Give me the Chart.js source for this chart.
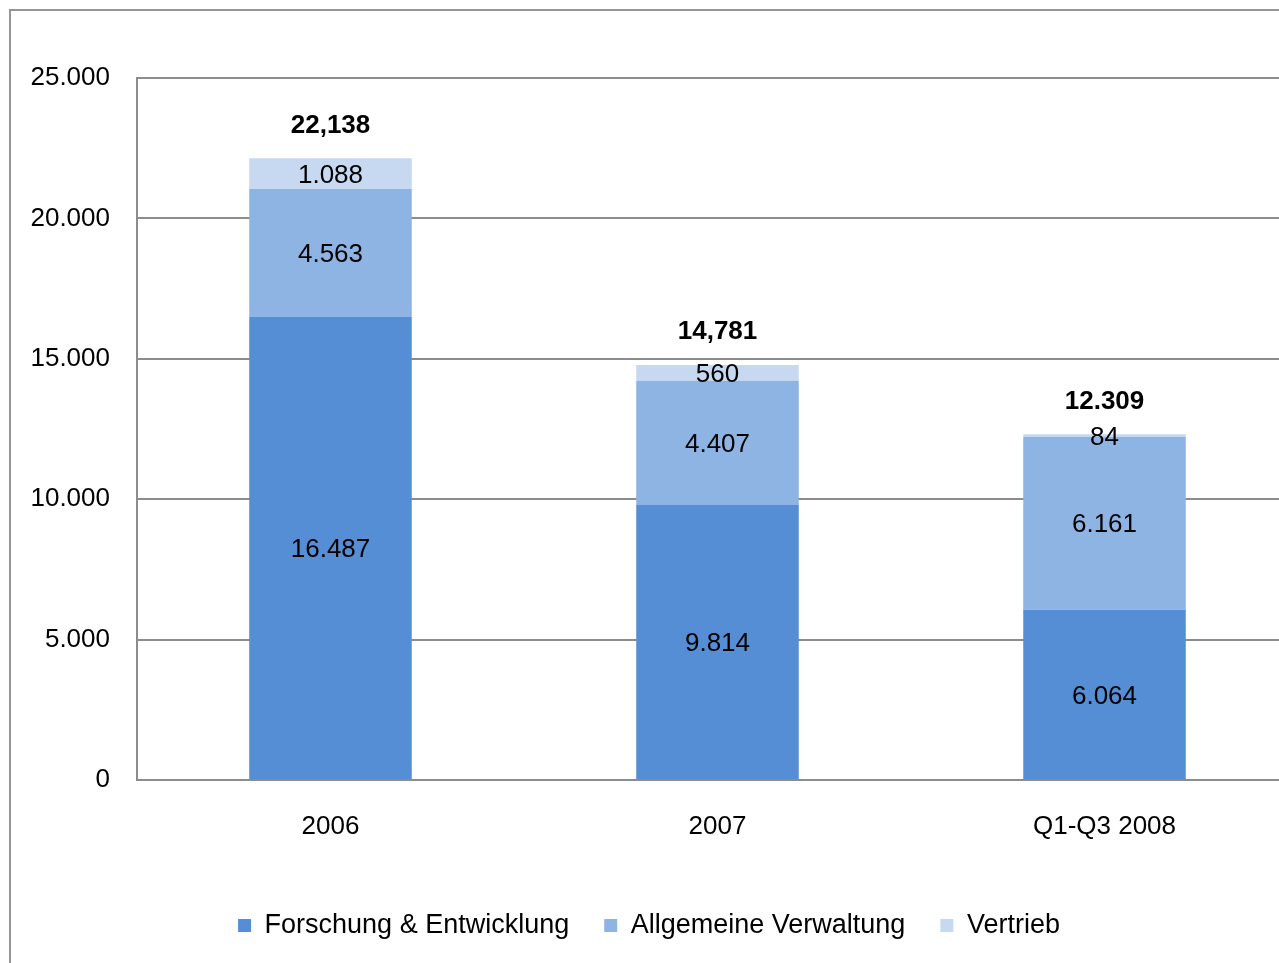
<!DOCTYPE html>
<html>
<head>
<meta charset="utf-8">
<script src="https://cdn.jsdelivr.net/npm/chart.js@4.4.1/dist/chart.umd.min.js"></script>
<style>
  html, body { margin: 0; padding: 0; background: #fff; overflow: hidden; width: 1279px; height: 963px; }
  #rahmen { position: absolute; left: 9px; top: 9px; width: 2000px; height: 2000px; border: 2px solid #959595; }
  #box { position: absolute; left: 0; top: 0; width: 1300px; height: 963px; }
</style>
</head>
<body>
<div id="rahmen"></div>
<div id="box"><canvas id="kosten"></canvas></div>
<script>
// --- Daten ---
const kategorien = ["2006", "2007", "Q1-Q3 2008"];
const forschung = [16487, 9814, 6064];
const verwaltung = [4563, 4407, 6161];
const vertrieb = [1088, 560, 84];
const summen = ["22,138", "14,781", "12.309"];
const reihenNamen = ["Forschung & Entwicklung", "Allgemeine Verwaltung", "Vertrieb"];
const farben = ["#558ED5", "#8EB4E3", "#C6D9F1"];

const schrift = '"Liberation Sans", Arial, sans-serif';
const grau = "#8c8c8c";

// Tausenderpunkt
function fmt(n) {
    return String(n).replace(/\B(?=(\d{3})+(?!\d))/g, ".");
}

// Werte in die Balken + Summen oben drauf
const wertLabels = {
    id: "wertLabels",
    afterDatasetsDraw(chart) {
        const ctx = chart.ctx;
        ctx.save();
        ctx.fillStyle = "#000";
        ctx.textAlign = "center";
        ctx.textBaseline = "middle";
        ctx.font = "26px " + schrift;
        chart.data.datasets.forEach((ds, i) => {
            chart.getDatasetMeta(i).data.forEach((bar, j) => {
                ctx.fillText(fmt(ds.data[j]), bar.x, (bar.y + bar.base) / 2 + 2);
            });
        });
        ctx.font = "bold 26px " + schrift;
        const oben = chart.getDatasetMeta(chart.data.datasets.length - 1);
        oben.data.forEach((bar, j) => {
            ctx.fillText(summen[j], bar.x, bar.y - 33);
        });
        ctx.restore();
    }
};

const reihen = [forschung, verwaltung, vertrieb];

new Chart(document.getElementById("kosten"), {
    type: "bar",
    data: {
        labels: kategorien,
        datasets: reihen.map((werte, i) => ({
            label: reihenNamen[i],
            data: werte,
            backgroundColor: farben[i],
            borderWidth: 0,
            categoryPercentage: 1,
            barPercentage: 0.42
        }))
    },
    options: {
        responsive: true,
        maintainAspectRatio: false,
        animation: false,
        layout: { padding: { top: 78, right: 2, left: 0, bottom: 14 } },
        plugins: {
            legend: {
                position: "bottom",
                labels: {
                    boxWidth: 13,
                    boxHeight: 13,
                    padding: 35,
                    color: "#000",
                    font: { family: schrift, size: 27 }
                }
            },
            tooltip: { enabled: false }
        },
        scales: {
            x: {
                stacked: true,
                grid: { display: false },
                border: { display: true, color: grau, width: 2 },
                ticks: { color: "#000", padding: 23, font: { family: schrift, size: 26 } },
                afterFit: (s) => { s.height = 97; }
            },
            y: {
                stacked: true,
                min: 0,
                max: 25000,
                grid: { color: grau, lineWidth: 2, drawTicks: false },
                border: { display: true, color: grau, width: 2 },
                ticks: {
                    stepSize: 5000,
                    color: "#000",
                    padding: 27,
                    font: { family: schrift, size: 26 },
                    callback: (v) => fmt(v)
                },
                afterFit: (s) => { s.width = 137; }
            }
        }
    },
    plugins: [wertLabels]
});
</script>
</body>
</html>
